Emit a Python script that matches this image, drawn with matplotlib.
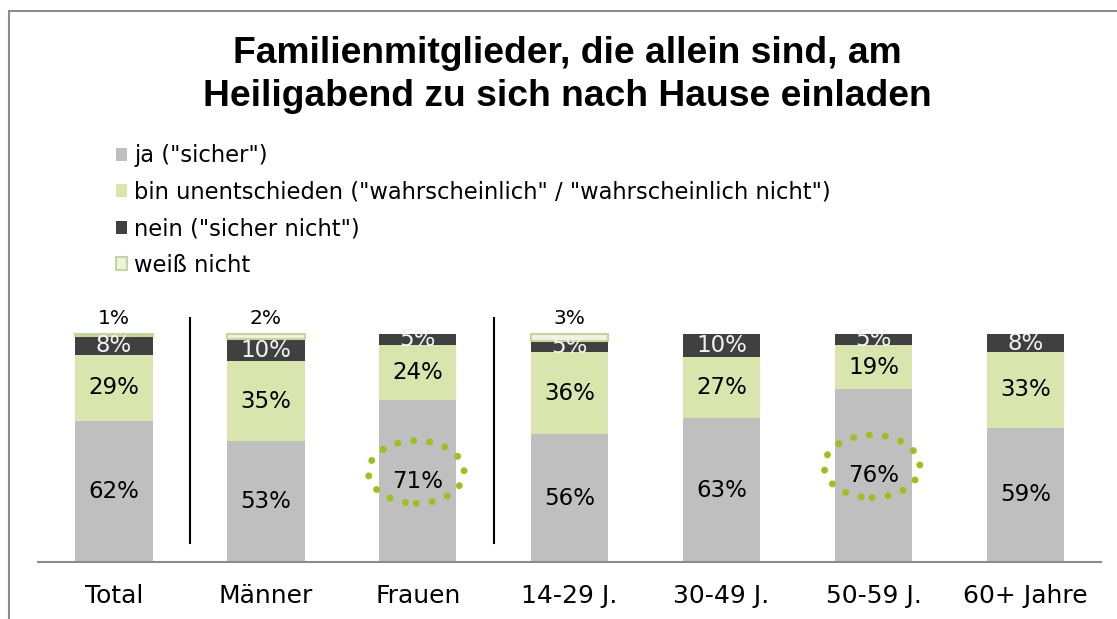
import matplotlib
matplotlib.use("Agg")
import matplotlib.pyplot as plt
from matplotlib.patches import Ellipse, Rectangle, Patch
import numpy as np

categories = ["Total", "Männer", "Frauen", "14-29 J.", "30-49 J.", "50-59 J.", "60+ Jahre"]
ja = [62, 53, 71, 56, 63, 76, 59]
unentschieden = [29, 35, 24, 36, 27, 19, 33]
nein = [8, 10, 5, 5, 10, 5, 8]
weiss_nicht = [1, 2, 0, 3, 0, 0, 0]
highlighted = ["Frauen", "50-59 J."]

legend_labels = ['ja ("sicher")',
                 'bin unentschieden ("wahrscheinlich" / "wahrscheinlich nicht")',
                 'nein ("sicher nicht")',
                 'weiß nicht']
title = "Familienmitglieder, die allein sind, am\nHeiligabend zu sich nach Hause einladen"

c_ja = "#bfbfbf"
c_un = "#d8e6ad"
c_nein = "#404040"
c_wn = "#eef3e2"
c_wn_edge = "#c4d79b"
c_dots = "#99c21a"

plt.rcParams["font.family"] = ["DejaVu Sans"]

fig = plt.figure(figsize=(11.17, 6.19), dpi=100)
ax = fig.add_axes([0.034, 0.092, 0.952, 0.4235])

x = np.arange(len(categories))
w = 0.51
ja = np.array(ja)
un = np.array(unentschieden)
ne = np.array(nein)
wn = np.array(weiss_nicht)

ax.bar(x, ja, w, color=c_ja)
ax.bar(x, un, w, bottom=ja, color=c_un)
ax.bar(x, ne, w, bottom=ja + un, color=c_nein)
has_wn = wn > 0
ax.bar(x[has_wn], wn[has_wn], w, bottom=(ja + un + ne)[has_wn], color=c_wn,
       edgecolor=c_wn_edge, linewidth=1.5)

for i in range(len(x)):
    ax.text(x[i], ja[i] / 2, f"{ja[i]}%", ha="center", va="center", fontsize=16.5, color="black")
    ax.text(x[i], ja[i] + un[i] / 2, f"{un[i]}%", ha="center", va="center", fontsize=16.5, color="black")
    ax.text(x[i], ja[i] + un[i] + ne[i] / 2, f"{ne[i]}%", ha="center", va="center", fontsize=16.5,
            color="#f2f2f2")
    if wn[i] > 0:
        ax.text(x[i], 100 + 7, f"{wn[i]}%", ha="center", va="center", fontsize=14.5, color="black")

# dotted circles around highlighted values
for name in highlighted:
    i = categories.index(name)
    ax.add_patch(Ellipse((x[i] - 0.01, ja[i] / 2 + 4), 0.63, 27.5, fill=False, edgecolor=c_dots,
                         linewidth=5, linestyle=(0, (0.01, 2.3)), capstyle="round", zorder=5))

# group separators
for sx in [0.5, 2.5]:
    ax.plot([sx, sx], [8.5, 107], color="black", linewidth=1.5)

ax.set_xlim(-0.5, len(x) - 0.5)
ax.set_ylim(0, 115)
ax.set_yticks([])
ax.set_xticks(x)
ax.set_xticklabels(categories, fontsize=18)
ax.tick_params(axis="x", length=0, pad=16)
for s in ["top", "right", "left"]:
    ax.spines[s].set_visible(False)
ax.spines["bottom"].set_color("#8c8c8c")
ax.spines["bottom"].set_linewidth(1.5)

handles = [Patch(facecolor=c_ja), Patch(facecolor=c_un), Patch(facecolor=c_nein),
           Patch(facecolor=c_wn, edgecolor=c_wn_edge, linewidth=1.5)]
fig.legend(handles, legend_labels, loc="upper left", bbox_to_anchor=(0.104, 0.767), frameon=False,
           fontsize=16.3, handlelength=0.5, handleheight=0.5, handletextpad=0.3, labelspacing=0.6,
           borderpad=0, borderaxespad=0)

fig.text(0.508, 0.879, title, ha="center", va="center", fontsize=26.8, fontweight="bold",
         family="Liberation Sans", linespacing=1.29)

fig.patches.append(Rectangle((9 / 1117, -0.05), 1.1, 1 - 11 / 619 + 0.05, transform=fig.transFigure,
                             fill=False, edgecolor="#8c8c8c", linewidth=1.5))

fig.savefig("out.png", dpi=100)
